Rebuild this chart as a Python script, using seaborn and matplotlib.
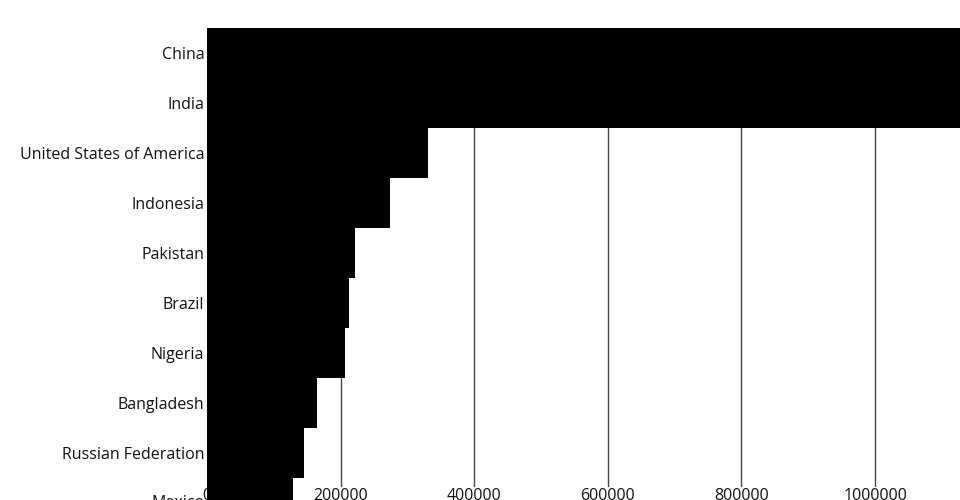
import matplotlib
matplotlib.use("Agg")
import matplotlib.pyplot as plt
import matplotlib.transforms as mtransforms
import seaborn as sns
import pandas as pd

# population (thousands)
countries = ["China", "India", "United States of America", "Indonesia", "Pakistan",
             "Brazil", "Nigeria", "Bangladesh", "Russian Federation", "Mexico"]
population = [1439324, 1380004, 331003, 273524, 220892,
              212559, 206140, 164689, 145934, 128933]
xticks = [0, 200000, 400000, 600000, 800000, 1000000]

df = pd.DataFrame({"country": countries, "population": population})

sns.set_style("white")
plt.rcParams["font.family"] = ["Open Sans", "DejaVu Sans"]

fig = plt.figure(figsize=(9.6, 5), dpi=100)
ax = fig.add_axes([207 / 960, 1 - 487 / 500, (960 - 207) / 960, (487 - 28) / 500])

sns.barplot(data=df, x="population", y="country", color="black", saturation=1,
            width=1.0, orient="h", linewidth=0, ax=ax)
for p in ax.patches:
    p.set_clip_on(False)
    p.set_zorder(3)

ax.set_xlim(0, 1127246)
ax.set_ylim(8.68, -0.5)
ax.set_xticks(xticks)
ax.set_xticklabels([str(t) for t in xticks])
ax.set_axisbelow(True)
ax.xaxis.grid(True, color="#444444", linewidth=1)
ax.yaxis.grid(False)
for s in ax.spines.values():
    s.set_visible(False)
ax.tick_params(axis="both", length=0, labelsize=11.5, colors="#111111")
ax.tick_params(axis="x", pad=1)
ax.tick_params(axis="y", pad=2)
ax.set_xlabel("")
ax.set_ylabel("")

# last category falls below the visible axis area; label it like the others
trans = mtransforms.offset_copy(ax.get_yaxis_transform(), fig=fig, x=-2, units="points")
ax.text(0, len(countries) - 1, countries[-1], transform=trans, ha="right", va="center",
        fontsize=11.5, color="#111111", clip_on=False, zorder=1)

fig.savefig("out.png", dpi=100)
